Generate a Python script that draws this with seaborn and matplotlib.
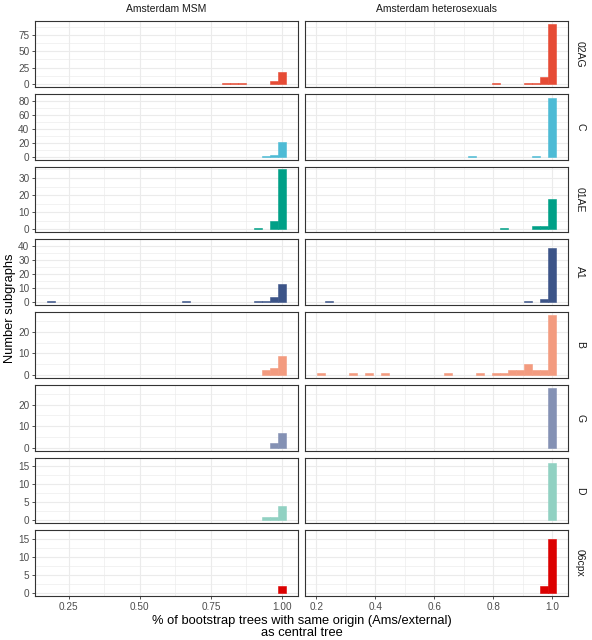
import matplotlib
matplotlib.use("Agg")
import matplotlib.pyplot as plt
import seaborn as sns
import numpy as np

sns.set_theme(style="white")
plt.rcParams['font.family'] = ['Liberation Sans', 'DejaVu Sans']

# ---------------- data ----------------
subtypes = ["02AG", "C", "01AE", "A1", "B", "G", "D", "06cpx"]
colors = ["#E64B35", "#4DBBD5", "#00A087", "#3C5488",
          "#F39B7F", "#8491B4", "#91D1C2", "#DC0000"]
columns = ["Amsterdam MSM", "Amsterdam heterosexuals"]

# bin centres (x) and counts (n), Amsterdam MSM
msm_02AG_x = [0.804, 0.832, 0.860, 0.972, 1.000]
msm_02AG_n = [1, 1, 1, 4, 18]
msm_C_x = [0.944, 0.972, 1.000]
msm_C_n = [1, 2, 21]
msm_01AE_x = [0.916, 0.972, 1.000]
msm_01AE_n = [1, 5, 35]
msm_A1_x = [0.188, 0.664, 0.916, 0.944, 0.972, 1.000]
msm_A1_n = [1, 1, 1, 1, 4, 13]
msm_B_x = [0.944, 0.972, 1.000]
msm_B_n = [2, 3, 9]
msm_G_x = [0.972, 1.000]
msm_G_n = [2, 7]
msm_D_x = [0.944, 0.972, 1.000]
msm_D_n = [1, 1, 4]
msm_06cpx_x = [1.000]
msm_06cpx_n = [2]

# bin centres (x) and counts (n), Amsterdam heterosexuals
het_02AG_x = [0.811, 0.919, 0.946, 0.973, 1.000]
het_02AG_n = [1, 1, 1, 11, 92]
het_C_x = [0.730, 0.946, 1.000]
het_C_n = [1, 1, 84]
het_01AE_x = [0.838, 0.946, 0.973, 1.000]
het_01AE_n = [1, 2, 2, 18]
het_A1_x = [0.243, 0.919, 0.973, 1.000]
het_A1_n = [1, 1, 2, 39]
het_B_x = [0.216, 0.324, 0.378, 0.432, 0.648, 0.757, 0.811, 0.838,
           0.865, 0.892, 0.919, 0.946, 0.973, 1.000]
het_B_n = [1, 1, 1, 1, 1, 1, 1, 1, 2, 2, 5, 2, 2, 28]
het_G_x = [1.000]
het_G_n = [28]
het_D_x = [1.000]
het_D_n = [16]
het_06cpx_x = [0.973, 1.000]
het_06cpx_n = [2, 15]

msm_x = [msm_02AG_x, msm_C_x, msm_01AE_x, msm_A1_x, msm_B_x, msm_G_x, msm_D_x, msm_06cpx_x]
msm_n = [msm_02AG_n, msm_C_n, msm_01AE_n, msm_A1_n, msm_B_n, msm_G_n, msm_D_n, msm_06cpx_n]
het_x = [het_02AG_x, het_C_x, het_01AE_x, het_A1_x, het_B_x, het_G_x, het_D_x, het_06cpx_x]
het_n = [het_02AG_n, het_C_n, het_01AE_n, het_A1_n, het_B_n, het_G_n, het_D_n, het_06cpx_n]

row_yticks = [[0, 25, 50, 75], [0, 20, 40, 60, 80], [0, 10, 20, 30],
              [0, 10, 20, 30, 40], [0, 10, 20], [0, 10, 20], [0, 5, 10, 15],
              [0, 5, 10, 15]]
msm_xticks = [0.25, 0.50, 0.75, 1.00]
msm_xticklabels = ["0.25", "0.50", "0.75", "1.00"]
het_xticks = [0.2, 0.4, 0.6, 0.8, 1.0]
het_xticklabels = ["0.2", "0.4", "0.6", "0.8", "1.0"]

# histogram binning per column (as in the original)
msm_binwidth = 0.028
msm_binrange = (0.174, 1.014)
het_binwidth = 0.02703
het_binrange = (0.2025, 1.0135)

# ---------------- layout ----------------
W, H = 592, 640
fig = plt.figure(figsize=(W / 100, H / 100), dpi=100)

def rect(x0, x1, y0, y1):
    return [x0 / W, 1 - y1 / H, (x1 - x0) / W, (y1 - y0) / H]

col_x = [(35, 298), (305, 568)]
top0, gap, ph = 21, 7, 65.75

grid_c = "#EBEBEB"
border_c = "#333333"
tick_fs = 7.2
strip_fs = 7.5
title_fs = 9.3

for r, sub in enumerate(subtypes):
    y0 = top0 + r * (ph + gap)
    y1 = y0 + ph
    ymax = max(max(msm_n[r]), max(het_n[r]))
    for c in range(2):
        ax = fig.add_axes(rect(col_x[c][0], col_x[c][1], y0, y1))
        if c == 0:
            xs, ns, bw, br = msm_x[r], msm_n[r], msm_binwidth, msm_binrange
            xt, xtl = msm_xticks, msm_xticklabels
        else:
            xs, ns, bw, br = het_x[r], het_n[r], het_binwidth, het_binrange
            xt, xtl = het_xticks, het_xticklabels
        xmin_b, xmax_b = br
        sns.histplot(x=xs, weights=ns, binwidth=bw, binrange=br, ax=ax,
                     color=colors[r], alpha=1, edgecolor=colors[r],
                     linewidth=0.4)
        for p in ax.patches:
            if p.get_height() == 0:
                p.set_visible(False)
        span = xmax_b - xmin_b
        ax.set_xlim(xmin_b - 0.05 * span, xmax_b + 0.05 * span)
        ax.set_ylim(-0.05 * ymax, 1.05 * ymax)
        ax.set_xlabel("")
        ax.set_ylabel("")
        # ticks / grid
        ax.set_xticks(xt)
        mx = [(a + b) / 2 for a, b in zip(xt[:-1], xt[1:])]
        ax.set_xticks(mx, minor=True)
        yt = row_yticks[r]
        ax.set_yticks(yt)
        my = [(a + b) / 2 for a, b in zip(yt[:-1], yt[1:])] + [yt[-1] + (yt[1] - yt[0]) / 2]
        ax.set_yticks(my, minor=True)
        ax.set_axisbelow(True)
        ax.grid(which="major", color=grid_c, linewidth=0.8)
        ax.grid(which="minor", color=grid_c, linewidth=0.45)
        for s in ax.spines.values():
            s.set_color(border_c)
            s.set_linewidth(0.8)
            s.set_visible(True)
        ax.tick_params(which="minor", length=0)
        ax.tick_params(which="major", length=2.5, width=0.6, color=border_c,
                       labelsize=tick_fs, labelcolor="#4D4D4D", pad=1.5)
        ax.tick_params(axis="x", bottom=(r == len(subtypes) - 1),
                       labelbottom=(r == len(subtypes) - 1))
        if r == len(subtypes) - 1:
            ax.set_xticklabels(xtl)
        ax.tick_params(axis="y", left=(c == 0), labelleft=(c == 0))
        if c == 0:
            ax.set_yticklabels([str(v) for v in yt])
    fig.text(580 / W, 1 - (y0 + ph / 2) / H, sub, rotation=-90,
             ha="center", va="center", fontsize=strip_fs, color="#1A1A1A")

for c, name in enumerate(columns):
    fig.text((col_x[c][0] + col_x[c][1]) / 2 / W, 1 - 8.5 / H, name,
             ha="center", va="center", fontsize=strip_fs, color="#1A1A1A")

fig.text(10 / W, 1 - 308.5 / H, "Number subgraphs", rotation=90,
         ha="center", va="center", fontsize=title_fs, color="black")
fig.text(301.5 / W, 1 - 627 / H,
         "% of bootstrap trees with same origin (Ams/external)\nas central tree",
         ha="center", va="center", fontsize=title_fs, color="black",
         multialignment="center", linespacing=1.1)

fig.savefig("out.png", dpi=100)
